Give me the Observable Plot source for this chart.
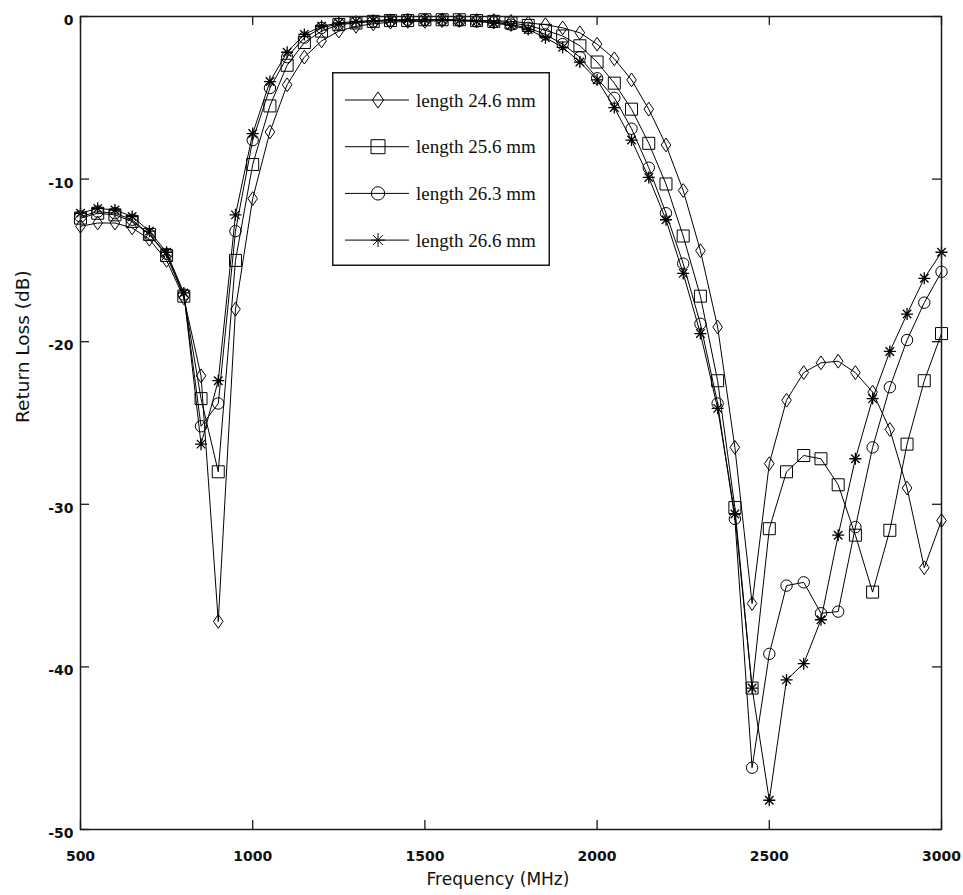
<!DOCTYPE html>
<html>
<head>
<meta charset="utf-8">
<script src="https://cdn.jsdelivr.net/npm/d3@7"></script>
<script src="https://cdn.jsdelivr.net/npm/@observablehq/plot@0.6"></script>
<style>
html, body { margin: 0; padding: 0; background: #fff; }
#wrap { position: relative; width: 963px; height: 895px; }
</style>
</head>
<body>
<div id="wrap"></div>
<script>
// ---- data ----
const freq = [500,550,600,650,700,750,800,850,900,950,1000,1050,1100,1150,1200,1250,1300,1350,1400,1450,1500,1550,1600,1650,1700,1750,1800,1850,1900,1950,2000,2050,2100,2150,2200,2250,2300,2350,2400,2450,2500,2550,2600,2650,2700,2750,2800,2850,2900,2950,3000];
const rl246 = [-12.9,-12.7,-12.7,-13.0,-13.7,-15.0,-17.3,-22.1,-37.2,-18.0,-11.2,-7.1,-4.2,-2.5,-1.5,-0.9,-0.6,-0.45,-0.35,-0.3,-0.3,-0.25,-0.25,-0.25,-0.25,-0.3,-0.4,-0.5,-0.7,-1.0,-1.7,-2.6,-3.9,-5.7,-7.9,-10.7,-14.4,-19.1,-26.5,-36.1,-27.5,-23.6,-21.9,-21.3,-21.2,-21.9,-23.1,-25.4,-29.0,-33.9,-31.0];
const rl256 = [-12.4,-12.1,-12.2,-12.6,-13.4,-14.7,-17.2,-23.5,-28.0,-15.0,-9.1,-5.5,-3.0,-1.6,-0.9,-0.5,-0.4,-0.3,-0.25,-0.25,-0.2,-0.2,-0.2,-0.25,-0.3,-0.4,-0.55,-0.85,-1.2,-1.8,-2.8,-4.1,-5.7,-7.8,-10.3,-13.5,-17.2,-22.4,-30.2,-41.3,-31.5,-28.0,-27.0,-27.2,-28.8,-31.9,-35.4,-31.6,-26.3,-22.4,-19.5];
const rl263 = [-12.3,-12.0,-12.1,-12.5,-13.4,-14.6,-17.1,-25.2,-23.8,-13.2,-7.6,-4.4,-2.5,-1.3,-0.7,-0.45,-0.35,-0.3,-0.25,-0.2,-0.2,-0.2,-0.25,-0.3,-0.35,-0.5,-0.7,-1.1,-1.7,-2.5,-3.8,-5.0,-6.9,-9.3,-12.1,-15.2,-18.9,-23.8,-30.9,-46.2,-39.2,-35.0,-34.8,-36.7,-36.6,-31.4,-26.5,-22.8,-19.9,-17.6,-15.7];
const rl266 = [-12.1,-11.8,-11.9,-12.3,-13.2,-14.5,-17.0,-26.3,-22.4,-12.2,-7.2,-4.0,-2.2,-1.1,-0.6,-0.4,-0.3,-0.25,-0.2,-0.2,-0.2,-0.2,-0.25,-0.3,-0.4,-0.55,-0.8,-1.3,-1.9,-2.8,-3.9,-5.6,-7.6,-9.9,-12.5,-15.8,-19.5,-24.1,-30.6,-41.3,-48.2,-40.8,-39.8,-37.1,-31.9,-27.2,-23.5,-20.6,-18.3,-16.1,-14.5];
const seriesNames = ["length 24.6 mm", "length 25.6 mm", "length 26.3 mm", "length 26.6 mm"];
const xTicks = [500, 1000, 1500, 2000, 2500, 3000];
const yTicks = [0, -10, -20, -30, -40, -50];
const xLabel = "Frequency (MHz)";
const yLabel = "Return Loss (dB)";

// ---- symbols (MATLAB-like hollow markers) ----
function makeSymbol(kind) {
  return {
    draw(ctx, size) {
      const r = Math.sqrt(size / Math.PI);
      if (kind === "diamond") {
        const w = r * 0.8, h = r * 1.15;
        ctx.moveTo(0, -h); ctx.lineTo(w, 0); ctx.lineTo(0, h); ctx.lineTo(-w, 0); ctx.closePath();
      } else if (kind === "square") {
        ctx.moveTo(-r, -r); ctx.lineTo(r, -r); ctx.lineTo(r, r); ctx.lineTo(-r, r); ctx.closePath();
      } else if (kind === "circle") {
        const c = r * 0.95;
        ctx.moveTo(c, 0); ctx.arc(0, 0, c, 0, 2 * Math.PI);
      } else {
        for (let k = 0; k < 4; k++) {
          const a = k * Math.PI / 4, dx = Math.cos(a) * r, dy = Math.sin(a) * r;
          ctx.moveTo(dx, dy); ctx.lineTo(-dx, -dy);
        }
      }
    }
  };
}
const symbols = [makeSymbol("diamond"), makeSymbol("square"), makeSymbol("circle"), makeSymbol("star")];
const seriesValues = [rl246, rl256, rl263, rl266];

const table = [];
seriesValues.forEach((vals, i) => {
  freq.forEach((f, j) => table.push({f, v: vals[j], s: seriesNames[i]}));
});

// ---- layout ----
const W = 963, H = 895;
const mL = 80, mR = 22, mT = 16, mB = 66;
const frameW = W - mL - mR, frameH = H - mT - mB;
const tickLen = 9;
const ink = "#1a1a1a";

const marks = [];
// inward ticks on all four sides
marks.push(Plot.ruleX(xTicks, {x: d => d, insetTop: frameH - tickLen, stroke: ink, strokeWidth: 1.3}));
marks.push(Plot.ruleX(xTicks, {x: d => d, insetBottom: frameH - tickLen, stroke: ink, strokeWidth: 1.3}));
marks.push(Plot.ruleY(yTicks, {y: d => d, insetRight: frameW - tickLen, stroke: ink, strokeWidth: 1.3}));
marks.push(Plot.ruleY(yTicks, {y: d => d, insetLeft: frameW - tickLen, stroke: ink, strokeWidth: 1.3}));
// data
seriesNames.forEach((name, i) => {
  const rows = table.filter(d => d.s === name);
  marks.push(Plot.line(rows, {x: "f", y: "v", stroke: "black", strokeWidth: 1}));
});
seriesNames.forEach((name, i) => {
  const rows = table.filter(d => d.s === name);
  marks.push(Plot.dot(rows, {x: "f", y: "v", r: 6, symbol: symbols[i], fill: "none", stroke: "black", strokeWidth: i === 3 ? 1.3 : 1}));
});
marks.push(Plot.frame({stroke: ink, strokeWidth: 1.5}));
marks.push(Plot.axisX({ticks: xTicks, tickSize: 0, tickPadding: 22, tickFormat: d => String(d), label: null,
  fontSize: 14, fontWeight: "bold", fontFamily: "DejaVu Sans", fill: "#111"}));
marks.push(Plot.axisY({ticks: yTicks, tickSize: 0, tickPadding: 7, tickFormat: d => String(d), label: null,
  fontSize: 14, fontWeight: "bold", fontFamily: "DejaVu Sans", fill: "#111", dy: 4}));
marks.push(Plot.text([xLabel], {text: d => d, frameAnchor: "bottom", dy: 55, dx: -13, fontSize: 17, fontFamily: "DejaVu Sans", fill: "#111"}));
marks.push(Plot.text([yLabel], {text: d => d, frameAnchor: "left", dx: -57, rotate: -90, fontSize: 18.5, fontFamily: "DejaVu Sans", fill: "#111"}));

const chart = Plot.plot({
  width: W, height: H,
  marginLeft: mL, marginRight: mR, marginTop: mT, marginBottom: mB,
  x: {domain: [500, 3000]},
  y: {domain: [-50, 0]},
  style: {background: "white", overflow: "visible"},
  marks
});
const wrap = document.getElementById("wrap");
wrap.appendChild(chart);

// ---- legend ----
const lgW = 218, lgH = 194;
const lg = d3.create("svg")
  .attr("width", lgW).attr("height", lgH)
  .style("position", "absolute").style("left", "332px").style("top", "72px");
lg.append("rect").attr("x", 0.75).attr("y", 0.75).attr("width", lgW - 1.5).attr("height", lgH - 1.5)
  .attr("fill", "white").attr("stroke", ink).attr("stroke-width", 1.5);
seriesNames.forEach((name, i) => {
  const cy = 28 + i * 46.7;
  lg.append("line").attr("x1", 13).attr("x2", 77).attr("y1", cy).attr("y2", cy).attr("stroke", "black").attr("stroke-width", 1);
  const p = d3.path();
  symbols[i].draw(p, Math.PI * 7 * 7);
  lg.append("path").attr("d", p.toString()).attr("transform", `translate(46,${cy})`)
    .attr("fill", "none").attr("stroke", "black").attr("stroke-width", 1);
  lg.append("text").attr("x", 84).attr("y", cy).attr("dy", "0.35em")
    .attr("font-family", "Liberation Serif, Times New Roman, serif").attr("font-size", 19)
    .attr("fill", "#111").text(name);
});
wrap.appendChild(lg.node());
</script>
</body>
</html>
